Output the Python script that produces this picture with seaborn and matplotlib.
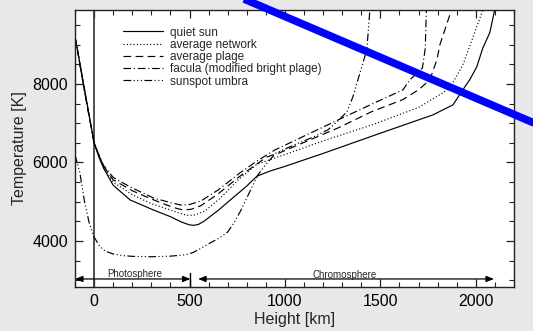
import numpy as np
import pandas as pd
import matplotlib
matplotlib.use("Agg")
import matplotlib.pyplot as plt
from matplotlib.lines import Line2D
from matplotlib.ticker import MultipleLocator
import seaborn as sns

# ---------------- data ----------------
labels = ["quiet sun", "average network", "average plage",
          "facula (modified bright plage)", "sunspot umbra"]

h_quiet = [-100, -89, -50, -25, 0, 25, 50, 100, 189, 311, 400, 460, 500, 521,
           545, 575, 650, 732, 800, 853, 921, 1000, 1200, 1497, 1775, 1880,
           1932, 1970, 2005, 2037, 2073, 2099]
T_quiet = [9200, 8920, 7860, 7180, 6500, 6140, 5850, 5420, 5045, 4790, 4620,
           4480, 4410, 4400, 4420, 4500, 4780, 5120, 5400, 5650, 5780, 5900,
           6230, 6740, 7210, 7465, 7848, 8120, 8434, 8918, 9300, 9886]

h_network = [-100, -89, -50, -25, 0, 25, 50, 100, 200, 300, 400, 460, 495,
             530, 580, 663, 760, 853, 926, 1000, 1200, 1453, 1700, 1820, 1865,
             1932, 1984, 2037]
T_network = [9200, 8920, 7860, 7180, 6500, 6160, 5880, 5500, 5180, 4950,
             4790, 4690, 4650, 4665, 4760, 5100, 5580, 5950, 6080, 6200, 6550,
             6950, 7400, 7750, 7900, 8485, 9172, 9886]

h_plage = [-100, -89, -50, -25, 0, 25, 50, 100, 200, 300, 400, 440, 470, 510,
           560, 650, 764, 858, 906, 974, 1279, 1453, 1618, 1700, 1759, 1796,
           1812, 1864, 1874]
T_plage = [9200, 8920, 7800, 7150, 6500, 6180, 5900, 5560, 5280, 5070, 4880,
           4820, 4790, 4810, 4900, 5200, 5650, 5980, 6140, 6250, 6880, 7290,
           7600, 7850, 8102, 8612, 9000, 9758, 9886]

h_facula = [-100, -89, -50, -25, 0, 25, 50, 100, 189, 311, 400, 453, 500, 560,
            650, 764, 858, 948, 1279, 1453, 1618, 1654, 1720, 1735, 1741]
T_facula = [9200, 8920, 7800, 7150, 6500, 6200, 5920, 5620, 5376, 5095, 4980,
            4917, 4930, 5020, 5300, 5733, 6050, 6320, 7083, 7480, 7847, 8100,
            8400, 8900, 9886]

h_umbra = [-100, -75, -50, -25, 0, 30, 60, 100, 150, 200, 300, 400, 480, 520,
           558, 600, 650, 700, 735, 770, 820, 858, 900, 953, 1050, 1150, 1225,
           1272, 1325, 1356, 1393, 1429, 1445]
T_umbra = [6200, 5750, 5000, 4450, 4100, 3860, 3740, 3670, 3630, 3610, 3600,
           3615, 3650, 3710, 3810, 3930, 4060, 4230, 4480, 4790, 5300, 5680,
           5950, 6240, 6450, 6650, 6830, 7030, 7290, 7670, 8280, 8870, 9886]

region_names = ["Photosphere", "Chromosphere"]

# ---------------- styling ----------------
sns.set_style("ticks")
plt.rcParams["font.family"] = ["Liberation Sans", "DejaVu Sans"]
plt.rcParams["lines.scale_dashes"] = False

fig = plt.figure(figsize=(5.33, 3.31), dpi=100, facecolor="#e8e8e8")
ax = fig.add_axes([75 / 533, 1 - 287 / 331, 439 / 533, 277 / 331])
ax.set_facecolor("white")

styles = ["-", (0, (0.8, 1.6)), (0, (5.5, 3.2)), (0, (5.5, 2.0, 0.8, 2.0)),
          (0, (5.5, 1.8, 0.8, 1.8, 0.8, 1.8, 0.8, 1.8))]
series = [(h_quiet, T_quiet), (h_network, T_network), (h_plage, T_plage),
          (h_facula, T_facula), (h_umbra, T_umbra)]

for (hh, tt), lab, ls in zip(series, labels, styles):
    df = pd.DataFrame({"Height": hh, "Temperature": tt})
    sns.lineplot(data=df, x="Height", y="Temperature", ax=ax, color="black",
                 linewidth=0.85, linestyle=ls, label=lab, estimator=None,
                 sort=False)

ax.axvline(0, color="#333333", lw=1.2, zorder=1)

ax.set_xlim(-100, 2200)
ax.set_ylim(2830, 9880)
ax.xaxis.set_major_locator(MultipleLocator(500))
ax.xaxis.set_minor_locator(MultipleLocator(100))
ax.yaxis.set_major_locator(MultipleLocator(2000))
ax.yaxis.set_minor_locator(MultipleLocator(500))
ax.tick_params(which="both", direction="in", top=True, right=True,
               colors="#222222", labelcolor="black", labelsize=11.5)
ax.tick_params(which="major", length=6, width=0.9, pad=5)
ax.tick_params(which="minor", length=3.5, width=0.8)
for sp in ax.spines.values():
    sp.set_color("#222222")
    sp.set_linewidth(1.0)

ax.set_xlabel("Height [km]", fontsize=11.5, labelpad=2)
ax.set_ylabel("Temperature [K]", fontsize=11.5, labelpad=4)

leg = ax.legend(loc="upper left", bbox_to_anchor=(0.109, 0.94),
                frameon=False, fontsize=8.5, handlelength=3.4,
                handletextpad=0.6, labelspacing=0.02, borderpad=0,
                borderaxespad=0)

# region arrows along the bottom
xt = ax.get_xaxis_transform()
arrow_kw = dict(arrowstyle="<|-|>,head_length=0.45,head_width=0.18",
                color="black", lw=0.9, shrinkA=0, shrinkB=0,
                mutation_scale=10)
ax.annotate("", xy=(505, 0.029), xytext=(-100, 0.029), xycoords=xt,
            textcoords=xt, arrowprops=arrow_kw, annotation_clip=False)
ax.annotate("", xy=(2095, 0.029), xytext=(545, 0.029), xycoords=xt,
            textcoords=xt, arrowprops=arrow_kw)
ax.axvline(505, ymin=0, ymax=0.05, color="black", lw=1.0)
ax.text(213, 0.048, region_names[0], transform=xt, fontsize=7,
        ha="center", va="center")
ax.text(1314, 0.045, region_names[1], transform=xt, fontsize=7,
        ha="center", va="center")

# blue overlay stroke
fig.add_artist(Line2D([230 / 533, 545 / 533], [1 + 7 / 331, 1 - 127.7 / 331],
                      transform=fig.transFigure, color="#0000ff", lw=5.5,
                      solid_capstyle="butt", zorder=10))

fig.savefig("out.png", dpi=100, facecolor=fig.get_facecolor())
